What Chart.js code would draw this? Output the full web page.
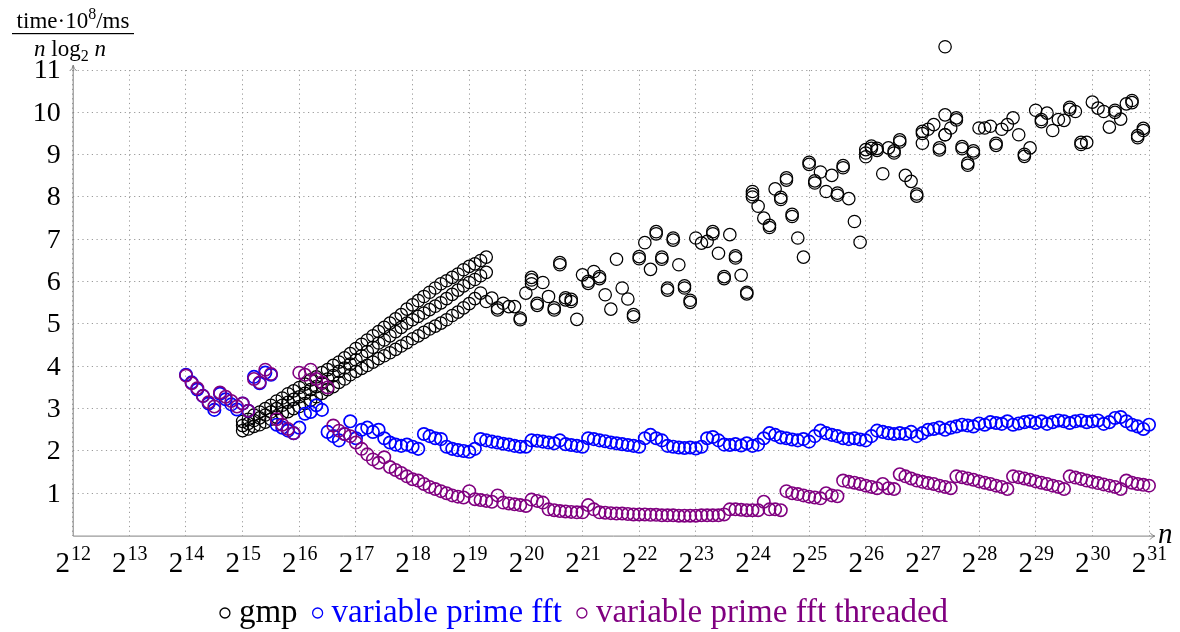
<!DOCTYPE html>
<html>
<head>
<meta charset="utf-8">
<script src="https://cdn.jsdelivr.net/npm/chart.js@4.4.0/dist/chart.umd.min.js"></script>
<style>
    html, body { margin: 0; padding: 0; background: #fff; }
    #wrap { width: 1180px; height: 632px; }
</style>
</head>
<body>
<div id="wrap"><canvas id="timingChart" width="1180" height="632"></canvas></div>
<script>
/**
 * Multiplication timings: time*1e8/ms / (n log2 n) against n (log2 axis)
 * x values are stored as log2(n)
 */

// ---- x axis ticks (exponents of 2) ----
const xTickExps = [12, 13, 14, 15, 16, 17, 18, 19, 20, 21, 22, 23, 24, 25, 26, 27, 28, 29, 30, 31];
const yTickValues = [1, 2, 3, 4, 5, 6, 7, 8, 9, 10, 11];

// ---- gmp: three rising bands for small n ----
const gmpBandExp = [15.0, 15.1, 15.2, 15.3, 15.4, 15.5, 15.6, 15.7, 15.8, 15.9,
    16.0, 16.1, 16.2, 16.3, 16.4, 16.5, 16.6, 16.7, 16.8, 16.9,
    17.0, 17.1, 17.2, 17.3, 17.4, 17.5, 17.6, 17.7, 17.8, 17.9,
    18.0, 18.1, 18.2, 18.3, 18.4, 18.5, 18.6, 18.7, 18.8, 18.9,
    19.0, 19.1, 19.2, 19.3];
const gmpBandTop = [2.70, 2.75, 2.85, 2.92, 3.00, 3.08, 3.18, 3.25, 3.35, 3.42,
    3.50, 3.58, 3.68, 3.75, 3.85, 3.92, 4.02, 4.10, 4.20, 4.30,
    4.42, 4.52, 4.62, 4.72, 4.82, 4.92, 5.02, 5.12, 5.22, 5.35,
    5.45, 5.55, 5.65, 5.75, 5.85, 5.95, 6.02, 6.10, 6.18, 6.28,
    6.36, 6.42, 6.50, 6.58];
const gmpBandMid = [2.60, 2.65, 2.72, 2.78, 2.85, 2.92, 3.00, 3.08, 3.15, 3.22,
    3.28, 3.36, 3.45, 3.52, 3.60, 3.70, 3.78, 3.88, 3.96, 4.05,
    4.15, 4.25, 4.35, 4.45, 4.55, 4.62, 4.72, 4.82, 4.92, 5.02,
    5.10, 5.18, 5.26, 5.34, 5.42, 5.50, 5.60, 5.70, 5.80, 5.90,
    5.98, 6.05, 6.14, 6.22];
const gmpBandLow = [2.48, 2.52, 2.58, 2.62, 2.68, 2.75, 2.80, 2.88, 2.93, 3.00,
    3.05, 3.12, 3.20, 3.28, 3.36, 3.45, 3.52, 3.62, 3.70, 3.80,
    3.88, 3.95, 4.02, 4.10, 4.18, 4.25, 4.32, 4.40, 4.48, 4.56,
    4.65, 4.72, 4.80, 4.88, 4.95, 5.02, 5.10, 5.20, 5.28, 5.38,
    5.48, 5.60, 5.73];

// ---- gmp: scattered timings for large n ----
const gmpExp = [19.3, 19.4, 19.5, 19.6, 19.7, 19.8, 19.9,
    20.0, 20.1, 20.2, 20.3, 20.4, 20.5, 20.6, 20.7, 20.8, 20.9,
    21.0, 21.1, 21.2, 21.3, 21.4, 21.5, 21.6, 21.7, 21.8, 21.9,
    22.0, 22.1, 22.2, 22.3, 22.4, 22.5, 22.6, 22.7, 22.8, 22.9,
    23.0, 23.1, 23.2, 23.3, 23.4, 23.5, 23.6, 23.7, 23.8, 23.9,
    24.0, 24.1, 24.2, 24.3, 24.4, 24.5, 24.6, 24.7, 24.8, 24.9,
    25.0, 25.1, 25.2, 25.3, 25.4, 25.5, 25.6, 25.7, 25.8, 25.9,
    26.0, 26.1, 26.2, 26.3, 26.4, 26.5, 26.6, 26.7, 26.8, 26.9,
    27.0, 27.1, 27.2, 27.3, 27.4, 27.5, 27.6, 27.7, 27.8, 27.9,
    28.0, 28.1, 28.2, 28.3, 28.4, 28.5, 28.6, 28.7, 28.8, 28.9,
    29.0, 29.1, 29.2, 29.3, 29.4, 29.5, 29.6, 29.7, 29.8, 29.9,
    30.0, 30.1, 30.2, 30.3, 30.4, 30.5, 30.6, 30.7, 30.8, 30.9];
const gmpTime = [5.53, 5.61, 5.33, 5.49, 5.41, 5.41, 5.10,
    5.73, 6.04, 5.49, 5.98, 5.65, 5.33, 6.45, 5.57, 5.53, 5.11,
    6.16, 5.96, 6.24, 6.12, 5.69, 5.35, 6.53, 5.85, 5.59, 5.17,
    6.59, 6.92, 6.29, 7.18, 6.53, 5.85, 7.03, 6.40, 5.90, 5.51,
    7.03, 6.91, 6.95, 7.18, 6.67, 6.12, 7.11, 6.56, 6.15, 5.71,
    8.13, 7.78, 7.50, 7.28, 8.19, 7.99, 8.45, 7.54, 7.03, 6.58,
    8.82, 8.33, 8.59, 8.13, 8.51, 8.09, 8.74, 7.96, 7.42, 6.93,
    9.04, 9.20, 9.15, 8.55, 9.16, 9.04, 9.35, 8.51, 8.37, 8.07,
    9.55, 9.60, 9.71, 9.16, 9.47, 9.63, 9.87, 9.19, 8.80, 9.04,
    9.63, 9.63, 9.67, 9.27, 9.60, 9.71, 9.87, 9.47, 8.96, 9.16,
    10.05, 9.83, 9.98, 9.57, 9.83, 9.81, 10.12, 10.02, 9.29, 9.29,
    10.24, 10.10, 10.02, 9.65, 10.05, 9.84, 10.20, 10.28, 9.45, 9.57];

// repeated gmp runs (rings drawn next to the first run) + the outlier
const gmpRepeatExp = [19.5, 19.9, 20.1, 20.1, 20.2, 20.5, 20.6, 20.7, 20.8, 21.1,
    21.3, 21.9, 22.0, 22.3, 22.4, 22.5, 22.6, 22.8, 22.9, 23.3,
    23.5, 23.7, 23.9, 24.0, 24.0, 24.3, 24.5, 24.6, 24.7, 25.0,
    25.1, 25.5, 25.6, 26.0, 26.0, 26.1, 26.2, 26.5, 26.6, 26.9,
    27.0, 27.0, 27.3, 27.4, 27.4, 27.4, 27.6, 27.7, 27.8, 27.9,
    28.3, 28.8, 29.1, 29.6, 29.8, 30.4, 30.7, 30.8, 30.9];
const gmpRepeatTime = [5.38, 5.14, 5.95, 6.10, 5.44, 5.38, 6.40, 5.62, 5.58, 6.01,
    6.07, 5.22, 6.54, 7.13, 6.58, 5.80, 6.98, 5.85, 5.56, 7.13,
    6.07, 6.61, 5.75, 8.00, 8.06, 7.33, 7.94, 8.40, 7.59, 8.77,
    8.38, 8.04, 8.69, 8.95, 9.12, 9.15, 9.10, 9.09, 9.30, 8.02,
    9.27, 9.50, 9.11, 9.94, 9.47, 11.55, 9.82, 9.14, 8.75, 9.09,
    9.22, 9.01, 9.78, 10.07, 9.24, 10.00, 10.23, 9.40, 9.62];

// ---- variable prime fft (single + threaded) ----
const fftExp = [14.0, 14.1, 14.2, 14.3, 14.4, 14.5, 14.6, 14.7, 14.8, 14.9,
    15.0, 15.1, 15.2, 15.3, 15.4, 15.5, 15.6, 15.7, 15.8, 15.9,
    16.0, 16.1, 16.2, 16.3, 16.4, 16.5, 16.6, 16.7, 16.8, 16.9,
    17.0, 17.1, 17.2, 17.3, 17.4, 17.5, 17.6, 17.7, 17.8, 17.9,
    18.0, 18.1, 18.2, 18.3, 18.4, 18.5, 18.6, 18.7, 18.8, 18.9,
    19.0, 19.1, 19.2, 19.3, 19.4, 19.5, 19.6, 19.7, 19.8, 19.9,
    20.0, 20.1, 20.2, 20.3, 20.4, 20.5, 20.6, 20.7, 20.8, 20.9,
    21.0, 21.1, 21.2, 21.3, 21.4, 21.5, 21.6, 21.7, 21.8, 21.9,
    22.0, 22.1, 22.2, 22.3, 22.4, 22.5, 22.6, 22.7, 22.8, 22.9,
    23.0, 23.1, 23.2, 23.3, 23.4, 23.5, 23.6, 23.7, 23.8, 23.9,
    24.0, 24.1, 24.2, 24.3, 24.4, 24.5, 24.6, 24.7, 24.8, 24.9,
    25.0, 25.1, 25.2, 25.3, 25.4, 25.5, 25.6, 25.7, 25.8, 25.9,
    26.0, 26.1, 26.2, 26.3, 26.4, 26.5, 26.6, 26.7, 26.8, 26.9,
    27.0, 27.1, 27.2, 27.3, 27.4, 27.5, 27.6, 27.7, 27.8, 27.9,
    28.0, 28.1, 28.2, 28.3, 28.4, 28.5, 28.6, 28.7, 28.8, 28.9,
    29.0, 29.1, 29.2, 29.3, 29.4, 29.5, 29.6, 29.7, 29.8, 29.9,
    30.0, 30.1, 30.2, 30.3, 30.4, 30.5, 30.6, 30.7, 30.8, 30.9,
    31.0];
const fftTime = [3.80, 3.62, 3.45, 3.30, 3.12, 2.97, 3.35, 3.22, 3.10, 2.98,
    3.12, 2.95, 3.75, 3.60, 3.85, 3.80, 2.62, 2.55, 2.48, 2.42,
    2.55, 2.88, 2.92, 3.08, 2.97, 2.45, 2.35, 2.25, 2.40, 2.70,
    2.30, 2.50, 2.55, 2.45, 2.50, 2.30, 2.20, 2.15, 2.12, 2.15,
    2.10, 2.05, 2.40, 2.35, 2.30, 2.28, 2.10, 2.05, 2.02, 2.00,
    1.98, 2.05, 2.28, 2.25, 2.22, 2.20, 2.17, 2.15, 2.12, 2.10,
    2.10, 2.25, 2.24, 2.22, 2.20, 2.18, 2.25, 2.16, 2.14, 2.12,
    2.10, 2.30, 2.28, 2.25, 2.23, 2.20, 2.18, 2.16, 2.14, 2.12,
    2.10, 2.30, 2.38, 2.30, 2.25, 2.12, 2.10, 2.08, 2.07, 2.08,
    2.06, 2.10, 2.30, 2.33, 2.25, 2.15, 2.14, 2.16, 2.13, 2.18,
    2.12, 2.15, 2.30, 2.42, 2.38, 2.32, 2.30, 2.27, 2.25, 2.28,
    2.22, 2.35, 2.48, 2.42, 2.38, 2.35, 2.30, 2.28, 2.30, 2.27,
    2.25, 2.35, 2.48, 2.45, 2.42, 2.40, 2.42, 2.40, 2.45, 2.35,
    2.42, 2.50, 2.52, 2.55, 2.50, 2.55, 2.58, 2.62, 2.60, 2.58,
    2.65, 2.62, 2.68, 2.66, 2.64, 2.70, 2.62, 2.65, 2.68, 2.70,
    2.66, 2.70, 2.64, 2.68, 2.72, 2.70, 2.66, 2.70, 2.72, 2.68,
    2.70, 2.72, 2.64, 2.68, 2.78, 2.80, 2.70, 2.62, 2.58, 2.52,
    2.62];
const fftThreadedTime = [3.78, 3.60, 3.48, 3.30, 3.15, 3.05, 3.38, 3.28, 3.18, 3.05,
    3.12, 2.95, 3.70, 3.62, 3.92, 3.82, 2.75, 2.62, 2.52, 2.42,
    3.85, 3.80, 3.92, 3.70, 3.62, 3.50, 2.60, 2.48, 2.40, 2.35,
    2.20, 2.05, 1.92, 1.80, 1.72, 1.85, 1.62, 1.55, 1.48, 1.40,
    1.33, 1.30, 1.22, 1.15, 1.10, 1.05, 1.00, 0.95, 0.92, 0.90,
    1.05, 0.86, 0.84, 0.82, 0.80, 0.95, 0.78, 0.76, 0.74, 0.72,
    0.70, 0.85, 0.82, 0.78, 0.62, 0.60, 0.58, 0.57, 0.56, 0.55,
    0.55, 0.72, 0.62, 0.55, 0.54, 0.53, 0.52, 0.52, 0.51, 0.50,
    0.50, 0.50, 0.49, 0.49, 0.48, 0.48, 0.48, 0.47, 0.47, 0.47,
    0.47, 0.48, 0.48, 0.48, 0.48, 0.50, 0.62, 0.62, 0.61, 0.60,
    0.60, 0.60, 0.80, 0.62, 0.62, 0.60, 1.05, 1.00, 0.98, 0.95,
    0.92, 0.90, 0.88, 1.00, 0.95, 0.93, 1.30, 1.27, 1.25, 1.22,
    1.18, 1.15, 1.12, 1.22, 1.12, 1.10, 1.45, 1.40, 1.35, 1.30,
    1.27, 1.24, 1.22, 1.18, 1.15, 1.12, 1.40, 1.38, 1.35, 1.32,
    1.28, 1.25, 1.22, 1.18, 1.15, 1.10, 1.40, 1.38, 1.35, 1.32,
    1.28, 1.25, 1.22, 1.18, 1.15, 1.10, 1.40, 1.37, 1.34, 1.30,
    1.27, 1.24, 1.21, 1.18, 1.15, 1.10, 1.30, 1.25, 1.22, 1.20,
    1.18];

const seriesNames = ['gmp', 'variable prime fft', 'variable prime fft threaded'];
const seriesColors = ['#000000', '#0000ff', '#800080'];

const SERIF = '"Liberation Serif", "DejaVu Serif", serif';
const AXIS_GRAY = '#808080';

function toPoints(exps, values) {
    return values.map((y, i) => ({ x: exps[i], y: y }));
}

const gmpPoints = [].concat(
    toPoints(gmpBandExp, gmpBandTop),
    toPoints(gmpBandExp, gmpBandMid),
    toPoints(gmpBandExp, gmpBandLow),
    toPoints(gmpExp, gmpTime),
    toPoints(gmpRepeatExp, gmpRepeatTime)
);

/**
 * Axis lines, arrows, tick labels, fraction title and legend
 */
const axisDecor = {
    id: 'axisDecor',
    beforeDatasetsDraw(chart) {
        const ctx = chart.ctx;
        const { left, right, top, bottom } = chart.chartArea;
        ctx.save();
        ctx.strokeStyle = AXIS_GRAY;
        ctx.lineWidth = 1;
        ctx.beginPath();
        ctx.moveTo(left + 0.5, bottom + 0.5);
        ctx.lineTo(right + 5, bottom + 0.5);
        ctx.moveTo(left + 0.5, bottom + 0.5);
        ctx.lineTo(left + 0.5, top - 4);
        ctx.stroke();
        // arrow heads
        ctx.beginPath();
        ctx.moveTo(right + 1, bottom - 3);
        ctx.quadraticCurveTo(right + 3, bottom, right + 6, bottom + 0.5);
        ctx.quadraticCurveTo(right + 3, bottom + 1, right + 1, bottom + 4);
        ctx.moveTo(left - 3, top + 1);
        ctx.quadraticCurveTo(left, top - 1, left + 0.5, top - 5);
        ctx.quadraticCurveTo(left + 1, top - 1, left + 4, top + 1);
        ctx.stroke();
        ctx.restore();
        // let the outlier above the top tick be drawn too
        chart._savedTop = chart.chartArea.top;
        chart.chartArea.top -= 45;
    },
    afterDatasetsDraw(chart) {
        if (chart._savedTop !== undefined) chart.chartArea.top = chart._savedTop;
    },
    afterDraw(chart) {
        const ctx = chart.ctx;
        const xs = chart.scales.x;
        const ys = chart.scales.y;
        const { left, right, bottom } = chart.chartArea;
        ctx.save();
        ctx.fillStyle = '#000';

        // y tick labels
        ctx.font = '28px ' + SERIF;
        ctx.textAlign = 'right';
        ctx.textBaseline = 'middle';
        yTickValues.forEach(v => {
            ctx.fillText(String(v), left - 12, ys.getPixelForValue(v) + 1);
        });

        // x tick labels 2^k
        ctx.textAlign = 'left';
        ctx.textBaseline = 'alphabetic';
        xTickExps.forEach(k => {
            ctx.font = '29px ' + SERIF;
            const wb = ctx.measureText('2').width;
            ctx.font = '20px ' + SERIF;
            const we = ctx.measureText(String(k)).width;
            const x0 = xs.getPixelForValue(k) - (wb + we) / 2;
            ctx.font = '29px ' + SERIF;
            ctx.fillText('2', x0, 572);
            ctx.font = '20px ' + SERIF;
            ctx.fillText(String(k), x0 + wb + 1, 560);
        });

        // x axis name
        ctx.font = 'italic 29px ' + SERIF;
        ctx.fillText('n', right + 9, bottom + 7);

        // y axis title as a fraction
        const numParts = [
            { t: 'time·10', f: '23px ' + SERIF, dy: 0 },
            { t: '8', f: '16px ' + SERIF, dy: -9 },
            { t: '/ms', f: '23px ' + SERIF, dy: 0 }
        ];
        drawRun(ctx, numParts, 73, 28);
        ctx.fillRect(12, 33, 122, 1.2);
        const denParts = [
            { t: 'n', f: 'italic 23px ' + SERIF, dy: 0 },
            { t: ' log', f: '23px ' + SERIF, dy: 0 },
            { t: '2', f: '16px ' + SERIF, dy: 5 },
            { t: ' n', f: 'italic 23px ' + SERIF, dy: 0 }
        ];
        drawRun(ctx, denParts, 70, 56);

        // legend
        ctx.font = '33px ' + SERIF;
        const gapMark = 19, gapItem = 15;
        const widths = seriesNames.map(s => ctx.measureText(s).width);
        let total = 0;
        widths.forEach((w, i) => { total += gapMark + w + (i < widths.length - 1 ? gapItem : 0); });
        let x = 584 - total / 2;
        const ly = 622;
        seriesNames.forEach((name, i) => {
            ctx.strokeStyle = seriesColors[i];
            ctx.lineWidth = 1.3;
            ctx.beginPath();
            ctx.arc(x + 5, ly - 9, 5, 0, Math.PI * 2);
            ctx.stroke();
            ctx.fillStyle = seriesColors[i];
            ctx.fillText(name, x + gapMark, ly);
            x += gapMark + widths[i] + gapItem;
        });
        ctx.restore();
    }
};

function drawRun(ctx, parts, centerX, baseline) {
    let total = 0;
    parts.forEach(p => { ctx.font = p.f; total += ctx.measureText(p.t).width; });
    let x = centerX - total / 2;
    ctx.textAlign = 'left';
    parts.forEach(p => {
        ctx.font = p.f;
        ctx.fillText(p.t, x, baseline + p.dy);
        x += ctx.measureText(p.t).width;
    });
}

function ringDataset(label, data, color, order, width) {
    return {
        label: label,
        data: data,
        order: order,
        clip: false,
        showLine: false,
        pointStyle: 'circle',
        pointRadius: 6.2,
        pointHoverRadius: 6.2,
        pointBorderWidth: width,
        pointBorderColor: color,
        pointBackgroundColor: 'rgba(0,0,0,0)'
    };
}

function renderTimingChart() {
    const ctx = document.getElementById('timingChart');
    return new Chart(ctx, {
        type: 'scatter',
        data: {
            datasets: [
                ringDataset(seriesNames[0], gmpPoints, seriesColors[0], 3, 1.25),
                ringDataset(seriesNames[1], toPoints(fftExp, fftTime), seriesColors[1], 2, 1.7),
                ringDataset(seriesNames[2], toPoints(fftExp, fftThreadedTime), seriesColors[2], 1, 1.6)
            ]
        },
        options: {
            responsive: false,
            animation: false,
            events: [],
            layout: { padding: { top: 70, right: 31, left: 0, bottom: 0 } },
            plugins: { legend: { display: false }, tooltip: { enabled: false } },
            scales: {
                x: {
                    type: 'linear',
                    min: 12,
                    max: 31,
                    afterBuildTicks: s => { s.ticks = xTickExps.map(v => ({ value: v })); },
                    afterFit: s => { s.height = 96.4; },
                    ticks: { display: false },
                    grid: { color: '#9a9a9a', lineWidth: 1, drawTicks: false },
                    border: { display: false, dash: [1.2, 3.5] }
                },
                y: {
                    type: 'linear',
                    min: 0,
                    max: 11,
                    afterBuildTicks: s => { s.ticks = yTickValues.map(v => ({ value: v })); },
                    afterFit: s => { s.width = 72.7; },
                    ticks: { display: false },
                    grid: { color: '#9a9a9a', lineWidth: 1, drawTicks: false },
                    border: { display: false, dash: [1.2, 3.5] }
                }
            }
        },
        plugins: [axisDecor]
    });
}

renderTimingChart();
</script>
</body>
</html>
